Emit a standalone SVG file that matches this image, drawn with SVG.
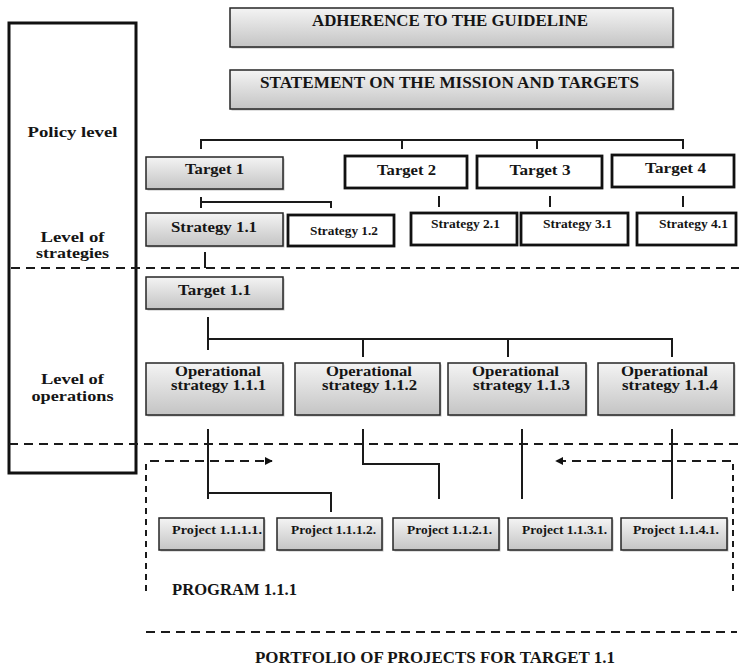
<svg xmlns="http://www.w3.org/2000/svg" width="739" height="668" viewBox="0 0 739 668">
  <defs>
    <linearGradient id="boxFill" x1="0" y1="0" x2="0" y2="1">
      <stop offset="0" stop-color="#f4f4f4"/>
      <stop offset="1" stop-color="#c4c4c4"/>
    </linearGradient>
    <marker id="arrowHead" viewBox="0 0 10 10" refX="9" refY="5" markerWidth="4" markerHeight="4" orient="auto" markerUnits="strokeWidth">
      <path d="M0,0 L10,5 L0,10 z" fill="#111"/>
    </marker>
    <clipPath id="opClip">
      <rect x="0" y="366.5" width="739" height="50"/>
    </clipPath>
  </defs>
  <style>
    text { font-family: "Liberation Serif", "Times New Roman", serif; font-weight: bold; fill: #151515; text-anchor: middle; }
    .shade { fill: #8a8a8a; opacity: 0.55; }
    .grey { fill: url(#boxFill); stroke: #262626; stroke-width: 1.5; }
    .plain { fill: #ffffff; stroke: #111111; stroke-width: 2.8; }
    .frame { fill: none; stroke: #111111; stroke-width: 3; }
    .link { fill: none; stroke: #1a1a1a; stroke-width: 2; }
    .dash { fill: none; stroke: #1a1a1a; stroke-width: 2; stroke-dasharray: 9 6; }
    .vdash { fill: none; stroke: #1a1a1a; stroke-width: 2; stroke-dasharray: 6 5; }
    .big { font-size: 16.6px; }
    .mid { font-size: 15.5px; }
    .side { font-size: 14px; }
    .op { font-size: 14px; }
    .small { font-size: 12.5px; }
    .proj { font-size: 13px; }
  </style>

  <!-- level column on the left -->
  <g id="levels">
    <rect class="frame" x="9" y="23" width="127" height="450"/>
    <text class="side" x="72.5" y="137" textLength="90" lengthAdjust="spacingAndGlyphs">Policy level</text>
    <text class="side" x="72.5" y="242" textLength="64" lengthAdjust="spacingAndGlyphs">Level of</text>
    <text class="side" x="72.5" y="258" textLength="73" lengthAdjust="spacingAndGlyphs">strategies</text>
    <text class="side" x="72.5" y="384" textLength="63" lengthAdjust="spacingAndGlyphs">Level of</text>
    <text class="side" x="72.5" y="401" textLength="82" lengthAdjust="spacingAndGlyphs">operations</text>
  </g>

  <!-- connectors and dashed boundaries -->
  <g id="connectors">
    <!-- policy bracket to targets -->
    <path class="link" d="M201,149 V140 H683 V149 M402,140 V149 M537,140 V149"/>
    <!-- targets to strategies -->
    <path class="link" d="M201,208 V197 M201,202 H331 V208"/>
    <path class="link" d="M439,196 V207 M550,196 V207 M683,196 V207"/>
    <path class="link" d="M205,252 V268"/>
    <!-- target 1.1 to operational strategies -->
    <path class="link" d="M208,317 V350 M208,339 H672 V357 M363,339 V357 M508,339 V357"/>
    <!-- operational strategies to projects -->
    <path class="link" d="M208,429 V499 M208,493 H331 V512"/>
    <path class="link" d="M363,429 V464 H439 V499"/>
    <path class="link" d="M522,429 V499"/>
    <path class="link" d="M672,429 V499"/>
    <!-- level boundaries -->
    <path class="dash" d="M11,268 H739"/>
    <path class="dash" d="M9,444 H739"/>
    <!-- program boundary -->
    <path class="dash" d="M150,461 H272" marker-end="url(#arrowHead)"/>
    <path class="dash" d="M731,461 H556" marker-end="url(#arrowHead)"/>
    <path class="vdash" d="M146,464 V596"/>
    <path class="vdash" d="M733,464 V596"/>
    <!-- portfolio boundary -->
    <path class="dash" d="M146,632 H737"/>
  </g>

  <g id="adherence">
    <rect class="shade" x="231.5" y="9.5" width="443" height="39"/>
    <rect class="grey" x="230" y="8" width="443" height="39"/>
    <text class="big" x="450" y="26" textLength="276" lengthAdjust="spacingAndGlyphs">ADHERENCE TO THE GUIDELINE</text>
  </g>
  <g id="statement">
    <rect class="shade" x="231.5" y="71.5" width="443" height="39"/>
    <rect class="grey" x="230" y="70" width="443" height="39"/>
    <text class="big" x="449.5" y="88" textLength="379" lengthAdjust="spacingAndGlyphs">STATEMENT ON THE MISSION AND TARGETS</text>
  </g>

  <g id="target-1">
    <rect class="shade" x="147.5" y="158.5" width="137" height="32"/>
    <rect class="grey" x="146" y="157" width="137" height="32"/>
    <text class="mid" x="214.5" y="174" textLength="59" lengthAdjust="spacingAndGlyphs">Target 1</text>
  </g>
  <g id="target-2">
    <rect class="plain" x="345" y="156" width="122" height="32"/>
    <text class="mid" x="406.5" y="175" textLength="59" lengthAdjust="spacingAndGlyphs">Target 2</text>
  </g>
  <g id="target-3">
    <rect class="plain" x="477" y="156" width="125" height="32"/>
    <text class="mid" x="540" y="175" textLength="61" lengthAdjust="spacingAndGlyphs">Target 3</text>
  </g>
  <g id="target-4">
    <rect class="plain" x="612" y="155" width="122" height="32"/>
    <text class="mid" x="675.5" y="173" textLength="61" lengthAdjust="spacingAndGlyphs">Target 4</text>
  </g>

  <g id="strategy-1-1">
    <rect class="shade" x="147.5" y="214.5" width="137" height="33"/>
    <rect class="grey" x="146" y="213" width="137" height="33"/>
    <text class="mid" x="214" y="232" textLength="86" lengthAdjust="spacingAndGlyphs">Strategy 1.1</text>
  </g>
  <g id="strategy-1-2">
    <rect class="plain" x="288" y="215" width="106" height="31"/>
    <text class="small" x="344" y="235" textLength="68" lengthAdjust="spacingAndGlyphs">Strategy 1.2</text>
  </g>
  <g id="strategy-2-1">
    <rect class="plain" x="411" y="213" width="106" height="32"/>
    <text class="small" x="465.5" y="228" textLength="69" lengthAdjust="spacingAndGlyphs">Strategy 2.1</text>
  </g>
  <g id="strategy-3-1">
    <rect class="plain" x="521" y="213" width="107" height="32"/>
    <text class="small" x="577.5" y="228" textLength="69" lengthAdjust="spacingAndGlyphs">Strategy 3.1</text>
  </g>
  <g id="strategy-4-1">
    <rect class="plain" x="637" y="213" width="99" height="32"/>
    <text class="small" x="693.5" y="228" textLength="69" lengthAdjust="spacingAndGlyphs">Strategy 4.1</text>
  </g>

  <g id="target-1-1">
    <rect class="shade" x="147.5" y="278.5" width="137" height="32"/>
    <rect class="grey" x="146" y="277" width="137" height="32"/>
    <text class="mid" x="214.5" y="295" textLength="73" lengthAdjust="spacingAndGlyphs">Target 1.1</text>
  </g>

  <g id="op-strategy-1-1-1">
    <rect class="shade" x="147.5" y="364.5" width="137" height="52"/>
    <rect class="grey" x="146" y="363" width="137" height="52"/>
    <g clip-path="url(#opClip)">
      <text class="op" x="218" y="376" textLength="86" lengthAdjust="spacingAndGlyphs">Operational</text>
      <text class="op" x="218.5" y="390" textLength="95" lengthAdjust="spacingAndGlyphs">strategy 1.1.1</text>
    </g>
  </g>
  <g id="op-strategy-1-1-2">
    <rect class="shade" x="296.5" y="364.5" width="145" height="52"/>
    <rect class="grey" x="295" y="363" width="145" height="52"/>
    <g clip-path="url(#opClip)">
      <text class="op" x="369" y="376" textLength="86" lengthAdjust="spacingAndGlyphs">Operational</text>
      <text class="op" x="369.5" y="390" textLength="95" lengthAdjust="spacingAndGlyphs">strategy 1.1.2</text>
    </g>
  </g>
  <g id="op-strategy-1-1-3">
    <rect class="shade" x="449.5" y="364.5" width="138" height="52"/>
    <rect class="grey" x="448" y="363" width="138" height="52"/>
    <g clip-path="url(#opClip)">
      <text class="op" x="515.5" y="376" textLength="87" lengthAdjust="spacingAndGlyphs">Operational</text>
      <text class="op" x="521.5" y="390" textLength="97" lengthAdjust="spacingAndGlyphs">strategy 1.1.3</text>
    </g>
  </g>
  <g id="op-strategy-1-1-4">
    <rect class="shade" x="599.5" y="364.5" width="136" height="52"/>
    <rect class="grey" x="598" y="363" width="136" height="52"/>
    <g clip-path="url(#opClip)">
      <text class="op" x="664.5" y="376" textLength="87" lengthAdjust="spacingAndGlyphs">Operational</text>
      <text class="op" x="670" y="390" textLength="96" lengthAdjust="spacingAndGlyphs">strategy 1.1.4</text>
    </g>
  </g>

  <g id="project-1-1-1-1">
    <rect class="shade" x="160.5" y="519.5" width="105" height="32"/>
    <rect class="grey" x="159" y="518" width="105" height="32"/>
    <text class="proj" x="217" y="534" textLength="90" lengthAdjust="spacingAndGlyphs">Project 1.1.1.1.</text>
  </g>
  <g id="project-1-1-1-2">
    <rect class="shade" x="278.5" y="519.5" width="105" height="32"/>
    <rect class="grey" x="277" y="518" width="105" height="32"/>
    <text class="proj" x="333.5" y="534" textLength="85" lengthAdjust="spacingAndGlyphs">Project 1.1.1.2.</text>
  </g>
  <g id="project-1-1-2-1">
    <rect class="shade" x="394.5" y="519.5" width="106" height="32"/>
    <rect class="grey" x="393" y="518" width="106" height="32"/>
    <text class="proj" x="449.5" y="534" textLength="85" lengthAdjust="spacingAndGlyphs">Project 1.1.2.1.</text>
  </g>
  <g id="project-1-1-3-1">
    <rect class="shade" x="509.5" y="519.5" width="104" height="32"/>
    <rect class="grey" x="508" y="518" width="104" height="32"/>
    <text class="proj" x="564.5" y="534" textLength="85" lengthAdjust="spacingAndGlyphs">Project 1.1.3.1.</text>
  </g>
  <g id="project-1-1-4-1">
    <rect class="shade" x="622.5" y="519.5" width="106" height="32"/>
    <rect class="grey" x="621" y="518" width="106" height="32"/>
    <text class="proj" x="676" y="534" textLength="86" lengthAdjust="spacingAndGlyphs">Project 1.1.4.1.</text>
  </g>

  <g id="program-label">
    <text class="big" x="234.5" y="595" textLength="125" lengthAdjust="spacingAndGlyphs">PROGRAM 1.1.1</text>
  </g>
  <g id="portfolio-label">
    <text class="big" x="435" y="663" textLength="360" lengthAdjust="spacingAndGlyphs">PORTFOLIO OF PROJECTS FOR TARGET 1.1</text>
  </g>
</svg>
